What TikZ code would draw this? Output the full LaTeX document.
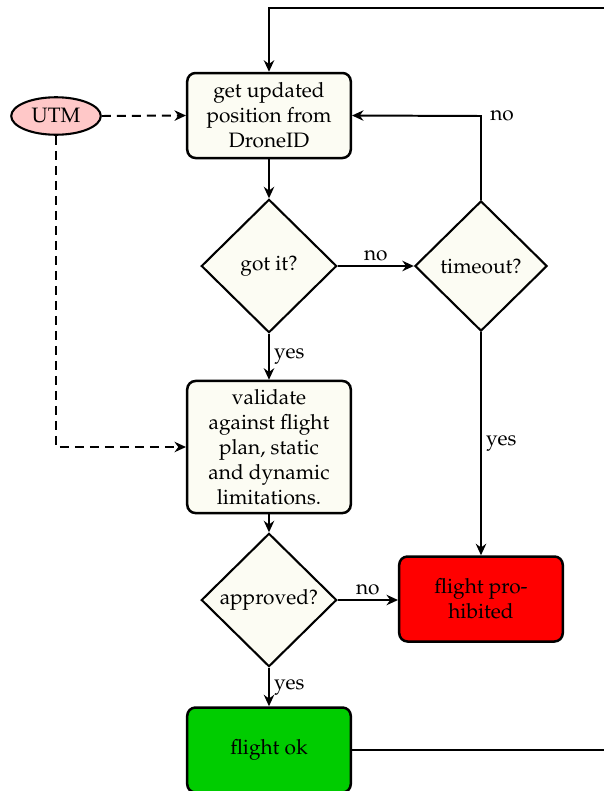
\documentclass[tikz,border=0pt]{standalone}
\usepackage[T1]{fontenc}
\usepackage{mathpazo}
\usetikzlibrary{shapes.geometric,arrows.meta}
\definecolor{boxfill}{RGB}{252,252,243}
\definecolor{utmfill}{RGB}{255,200,200}
\definecolor{okfill}{RGB}{0,204,0}
\definecolor{nofill}{RGB}{255,0,0}
\tikzset{
  procbox/.style={draw, line width=1.2pt, rounded corners=4pt, fill=boxfill,
    align=center, minimum width=78.5pt, inner sep=2pt},
  decision/.style={draw, line width=1pt, diamond, aspect=1, fill=boxfill,
    inner sep=1pt, minimum width=65pt, minimum height=64pt},
  flow/.style={line width=0.95pt, -{Stealth[length=5.5pt,width=5pt]}},
  feed/.style={line width=0.95pt, dashed, dash pattern=on 4.3pt off 2.9pt, -{Stealth[length=5.5pt,width=5pt]}},
  lbl/.style={inner sep=2pt}
}
\begin{document}
\begin{tikzpicture}[x=0.48pt,y=-0.48pt]
  \useasboundingbox (0,0) rectangle (604,791);
  \clip (0,0) rectangle (604,791);

  % process steps
  \node[procbox, minimum height=40.8pt] (get) at (269,115.5)
    {get updated\\position from\\DroneID};
  \node[draw, line width=1pt, ellipse, fill=utmfill, minimum width=43pt,
    minimum height=18pt, inner sep=1pt] (utm) at (56,116) {UTM};
  \node[decision] (got) at (269,266) {got it?};
  \node[decision, minimum width=63.5pt, minimum height=62.5pt] (tout) at (481,266) {timeout?};
  \node[procbox, minimum height=63.4pt] (val) at (269,447)
    {validate\\against flight\\plan, static\\and dynamic\\limitations.};
  \node[decision] (appr) at (269,600) {approved?};
  \node[procbox, fill=nofill, minimum height=40.8pt] (prohib) at (481,599)
    {flight pro-\\hibited};
  \node[procbox, fill=okfill, minimum height=40.8pt] (ok) at (269,750) {flight ok};

  % loop corners
  \coordinate (tcorner) at (481,116);
  \coordinate (okfar) at (640,750);
  \coordinate (topfar) at (640,8);
  \coordinate (topleft) at (269,8);
  \coordinate (utmdown) at (56,447);

  % UTM feeds
  \draw[feed] (utm.east) -- (get.west);
  \draw[feed] (utm.south) -- (utmdown) -- (val.west);

  % main flow
  \draw[flow] (get) -- (got);
  \draw[flow] (got) -- node[lbl, above] {no} (tout);
  \draw[flow] (tout.north) -- (tcorner) node[lbl, right, xshift=2pt] {no} -- (get.east);
  \draw[flow] (got) -- node[lbl, right] {yes} (val);
  \draw[flow] (tout) -- node[lbl, right] {yes} (prohib);
  \draw[flow] (val) -- (appr);
  \draw[flow] (appr.east) -- node[lbl, above] {no} (appr.east -| prohib.west);
  \draw[flow] (appr) -- node[lbl, right] {yes} (ok);
  \draw[flow] (ok.east) -- (okfar) -- (topfar) -- (topleft) -- (get.north);
\end{tikzpicture}
\end{document}
